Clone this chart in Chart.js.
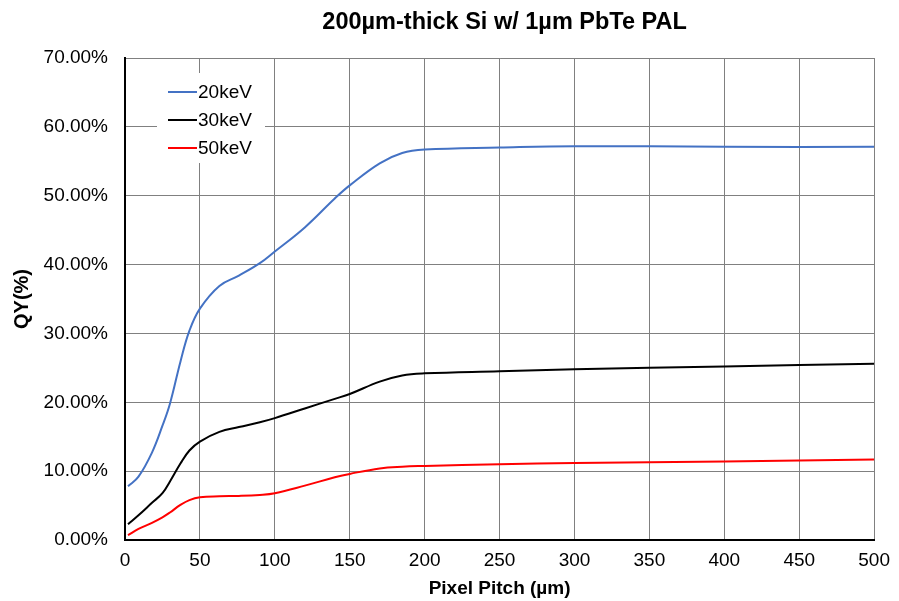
<!DOCTYPE html>
<html>
<head>
<meta charset="utf-8">
<script src="https://cdn.jsdelivr.net/npm/chart.js@4"></script>
<style>
  html, body { margin: 0; padding: 0; background: #fff; }
  #wrap { width: 899px; height: 601px; }
</style>
</head>
<body>
<div id="wrap"><canvas id="myChart"></canvas></div>
<script>
// pixel pitch (µm) where the values were read
const pitch = [2, 9, 18, 25, 30, 37, 43, 50, 63, 76, 90, 100, 120, 140, 150, 170, 185, 200, 250, 300, 400, 500]
// QY in %
const qy20keV = [7.8, 9.2, 12.7, 16.6, 19.8, 25.9, 30.4, 33.6, 36.9, 38.4, 40.2, 41.9, 45.4, 49.6, 51.5, 54.7, 56.2, 56.7, 57.0, 57.2, 57.1, 57.1]
const qy30keV = [2.3, 3.6, 5.4, 6.8, 8.5, 11.1, 13.0, 14.3, 15.7, 16.4, 17.1, 17.7, 19.1, 20.5, 21.2, 23.0, 23.9, 24.2, 24.5, 24.8, 25.2, 25.6]
const qy50keV = [0.7, 1.6, 2.5, 3.3, 4.0, 5.1, 5.8, 6.2, 6.35, 6.4, 6.55, 6.8, 7.9, 9.1, 9.6, 10.4, 10.65, 10.75, 11.0, 11.2, 11.4, 11.7]
const seriesLabels = ['20keV', '30keV', '50keV']
const seriesColors = ['#4472C4', '#000000', '#FF0000']

const titleText = '200µm-thick Si w/ 1µm PbTe PAL'
const fontFam = '"Liberation Sans", Arial, Helvetica, sans-serif'

const toPoints = (vals) => pitch.map((x, i) => ({ x: x, y: vals[i] }))

const data = {
    datasets: [qy20keV, qy30keV, qy50keV].map((vals, i) => ({
        label: seriesLabels[i],
        data: toPoints(vals),
        borderColor: seriesColors[i],
        backgroundColor: seriesColors[i],
        borderWidth: 2,
        pointRadius: 0,
        tension: 0.4,
        fill: false
    }))
}

// title centred over the plot area, legend box inside it
const extras = {
    id: 'extras',
    afterDraw(chart) {
        const { ctx, chartArea } = chart
        ctx.save()
        ctx.fillStyle = '#000'
        ctx.font = 'bold 23.5px ' + fontFam
        ctx.textAlign = 'center'
        ctx.textBaseline = 'middle'
        ctx.fillText(titleText, (chartArea.left + chartArea.right) / 2 + 5, 23)

        const lx = chartArea.left + 32
        const ly = chartArea.top + 15
        ctx.fillStyle = '#fff'
        ctx.fillRect(lx, ly, 108, 90)
        ctx.font = '19px ' + fontFam
        ctx.textAlign = 'left'
        chart.data.datasets.forEach((ds, i) => {
            const y = ly + 19 + i * 28
            ctx.strokeStyle = ds.borderColor
            ctx.lineWidth = 2
            ctx.beginPath()
            ctx.moveTo(lx + 11, y)
            ctx.lineTo(lx + 40, y)
            ctx.stroke()
            ctx.fillStyle = '#000'
            ctx.fillText(ds.label, lx + 41, y + 1)
        })
        ctx.restore()
    }
}

const config = {
    type: 'line',
    data: data,
    options: {
        responsive: true,
        maintainAspectRatio: false,
        animation: false,
        layout: { padding: { top: 58, right: 22, bottom: 0, left: 0 } },
        plugins: {
            legend: { display: false },
            title: { display: false },
            tooltip: { enabled: false }
        },
        scales: {
            x: {
                type: 'linear',
                min: 0,
                max: 500,
                ticks: {
                    stepSize: 50,
                    padding: 9,
                    color: '#000',
                    font: { family: fontFam, size: 19 },
                    maxRotation: 0
                },
                grid: { color: '#808080', lineWidth: 1, drawTicks: false },
                border: { color: '#000', width: 2 },
                title: {
                    display: true,
                    text: 'Pixel Pitch (µm)',
                    color: '#000',
                    font: { family: fontFam, size: 19, weight: 'bold' },
                    padding: { top: 0, bottom: 1 }
                },
                afterFit(scale) { scale.height = 61 }
            },
            y: {
                min: 0,
                max: 70,
                ticks: {
                    stepSize: 10,
                    padding: 17,
                    color: '#000',
                    font: { family: fontFam, size: 19 },
                    callback: (v) => v.toFixed(2) + '%'
                },
                grid: { color: '#808080', lineWidth: 1, drawTicks: false },
                border: { color: '#000', width: 2 },
                title: {
                    display: true,
                    text: 'QY(%)',
                    color: '#000',
                    font: { family: fontFam, size: 20, weight: 'bold' },
                    padding: { top: 10, bottom: 0 }
                },
                afterFit(scale) { scale.width = 125 }
            }
        }
    },
    plugins: [extras]
}

const ctx = document.getElementById('myChart')
new Chart(ctx, config)
</script>
</body>
</html>
